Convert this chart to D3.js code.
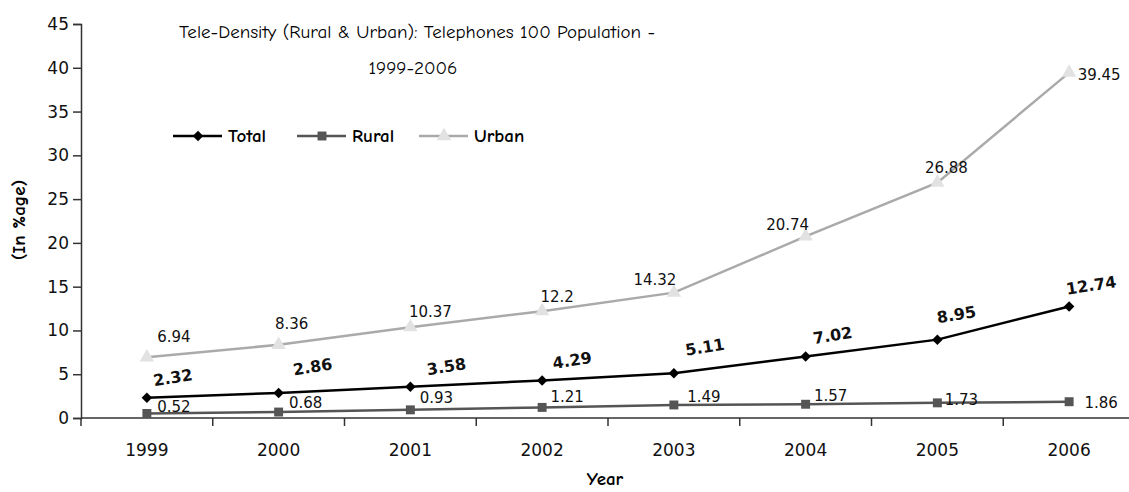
<!DOCTYPE html>
<html>
<head>
<meta charset="utf-8">
<script src="https://cdn.jsdelivr.net/npm/d3@7"></script>
<style>
	body { margin: 0; background: #fff; }
	svg { display: block; }
</style>
</head>
<body>
<svg id="svgChart" width="1129" height="492"></svg>
<script>
// Chart data
var years = ["1999", "2000", "2001", "2002", "2003", "2004", "2005", "2006"];
var totalValues = [2.32, 2.86, 3.58, 4.29, 5.11, 7.02, 8.95, 12.74];
var ruralValues = [0.52, 0.68, 0.93, 1.21, 1.49, 1.57, 1.73, 1.86];
var urbanValues = [6.94, 8.36, 10.37, 12.2, 14.32, 20.74, 26.88, 39.45];
var yTicks = [0, 5, 10, 15, 20, 25, 30, 35, 40, 45];

// Label nudges (as placed in the original)
var totalOffsets = [[26, -20], [34, -26], [36, -20], [30, -20], [31, -26], [27, -21], [19, -25], [22, -21]];
var ruralOffsets = [[27, -6], [27, -9], [26, -12], [25, -10], [30, -8], [25, -8], [24, -3], [32, 1]];
var urbanOffsets = [[27, -20], [13, -21], [20, -15], [15, -14], [-19, -13], [-18, -11], [9, -15], [30, 2]];

var chart = [];
chart.comic = "'Comic Sans MS', 'Comic Neue', 'DejaVu Sans', sans-serif";
chart.verdana = "Verdana, 'DejaVu Sans', sans-serif";

chart.draw = () => {
	let svg = d3.select("#svgChart");

	let x = d3.scaleBand()
			.domain(years)
			.range([81, 1135]),
		y = d3.scaleLinear()
			.domain([0, 45])
			.range([418, 24]);

	// Y axis
	let yAxis = svg.append("g")
		.attr("transform", "translate(81,0)")
		.call(d3.axisLeft(y).tickValues(yTicks).tickSize(8).tickPadding(4));
	yAxis.selectAll("text")
		.style("font-family", chart.verdana)
		.style("font-size", "17px")
		.attr("fill", "#111");

	// X axis with ticks between categories
	let xAxis = svg.append("g")
		.attr("transform", "translate(0,418)");
	xAxis.append("line")
		.attr("x1", 81).attr("x2", 1129)
		.attr("y1", 0).attr("y2", 0)
		.attr("stroke", "#333").attr("stroke-width", 1.5);
	xAxis.selectAll(".xtick")
		.data(years)
		.enter()
		.append("line")
		.attr("class", "xtick")
		.attr("x1", d => x(d)).attr("x2", d => x(d))
		.attr("y1", 0).attr("y2", 8)
		.attr("stroke", "#333").attr("stroke-width", 1.5);
	xAxis.selectAll(".xlabel")
		.data(years)
		.enter()
		.append("text")
		.attr("class", "xlabel")
		.attr("x", d => x(d) + x.bandwidth() / 2)
		.attr("y", 38)
		.attr("text-anchor", "middle")
		.style("font-family", chart.verdana)
		.style("font-size", "17px")
		.attr("fill", "#111")
		.text(d => d);

	yAxis.select(".domain").attr("stroke", "#333").attr("stroke-width", 1.5);
	yAxis.selectAll(".tick line").attr("stroke", "#333").attr("stroke-width", 1.5);

	// Axis titles
	svg.append("text")
		.attr("x", 605).attr("y", 485)
		.attr("text-anchor", "middle")
		.style("font-family", chart.comic)
		.style("font-size", "19px")
		.style("font-weight", "bold")
		.text("Year");
	svg.append("text")
		.attr("transform", "translate(25,220) rotate(-90)")
		.attr("text-anchor", "middle")
		.style("font-family", chart.comic)
		.style("font-size", "19px")
		.style("font-weight", "bold")
		.text("(In %age)");

	// Title
	svg.append("text")
		.attr("x", 417).attr("y", 38)
		.attr("text-anchor", "middle")
		.style("font-family", chart.comic)
		.style("font-size", "19px")
		.text("Tele-Density (Rural & Urban): Telephones 100 Population -");
	svg.append("text")
		.attr("x", 413).attr("y", 74)
		.attr("text-anchor", "middle")
		.style("font-family", chart.comic)
		.style("font-size", "19px")
		.text("1999-2006");

	let cx = (i) => x(years[i]) + x.bandwidth() / 2;

	let series = [
		{ name: "Urban", values: urbanValues, offsets: urbanOffsets, line: "#aaaaaa", mark: "#e2e2e2", symbol: d3.symbolTriangle, size: 90, rot: 0, bold: false },
		{ name: "Rural", values: ruralValues, offsets: ruralOffsets, line: "#555555", mark: "#555555", symbol: d3.symbolSquare, size: 80, rot: 0, bold: false },
		{ name: "Total", values: totalValues, offsets: totalOffsets, line: "#000000", mark: "#000000", symbol: d3.symbolSquare, size: 55, rot: 45, bold: true }
	];

	let lineGen = d3.line()
		.x((d, i) => cx(i))
		.y(d => y(d));

	series.forEach(s => {
		svg.append("path")
			.datum(s.values)
			.attr("d", lineGen)
			.attr("fill", "none")
			.attr("stroke", s.line)
			.attr("stroke-width", 2.5);

		svg.selectAll(".mk-" + s.name)
			.data(s.values)
			.enter()
			.append("path")
			.attr("class", "mk-" + s.name)
			.attr("transform", (d, i) => "translate(" + cx(i) + "," + y(d) + ") rotate(" + s.rot + ")")
			.attr("d", d3.symbol().type(s.symbol).size(s.size))
			.attr("fill", s.mark);
	});

	// Data labels
	series.forEach(s => {
		svg.selectAll(".lb-" + s.name)
			.data(s.values)
			.enter()
			.append("text")
			.attr("class", "lb-" + s.name)
			.attr("text-anchor", "middle")
			.attr("dominant-baseline", "central")
			.attr("transform", (d, i) => "translate(" + (cx(i) + s.offsets[i][0]) + "," + (y(d) + s.offsets[i][1]) + ")" + (s.bold ? " rotate(-9)" : ""))
			.style("font-family", chart.verdana)
			.style("font-size", s.bold ? "16px" : "15px")
			.style("font-weight", s.bold ? "bold" : "normal")
			.attr("fill", "#111")
			.text(d => d);
	});

	// Legend
	let legend = svg.append("g")
		.attr("transform", "translate(173,136)");
	let legendX = [0, 124, 246];
	let legendSeries = [series[2], series[1], series[0]];
	legendSeries.forEach((s, i) => {
		let g = legend.append("g").attr("transform", "translate(" + legendX[i] + ",0)");
		g.append("line")
			.attr("x1", 0).attr("x2", 49)
			.attr("y1", 0).attr("y2", 0)
			.attr("stroke", s.line).attr("stroke-width", 2.5);
		g.append("path")
			.attr("transform", "translate(25,0) rotate(" + s.rot + ")")
			.attr("d", d3.symbol().type(s.symbol).size(s.size))
			.attr("fill", s.mark);
		g.append("text")
			.attr("x", 55).attr("y", 0)
			.attr("dominant-baseline", "central")
			.style("font-family", chart.comic)
			.style("font-size", "19px")
			.style("font-weight", "bold")
			.text(s.name);
	});
}

chart.draw();
</script>
</body>
</html>
